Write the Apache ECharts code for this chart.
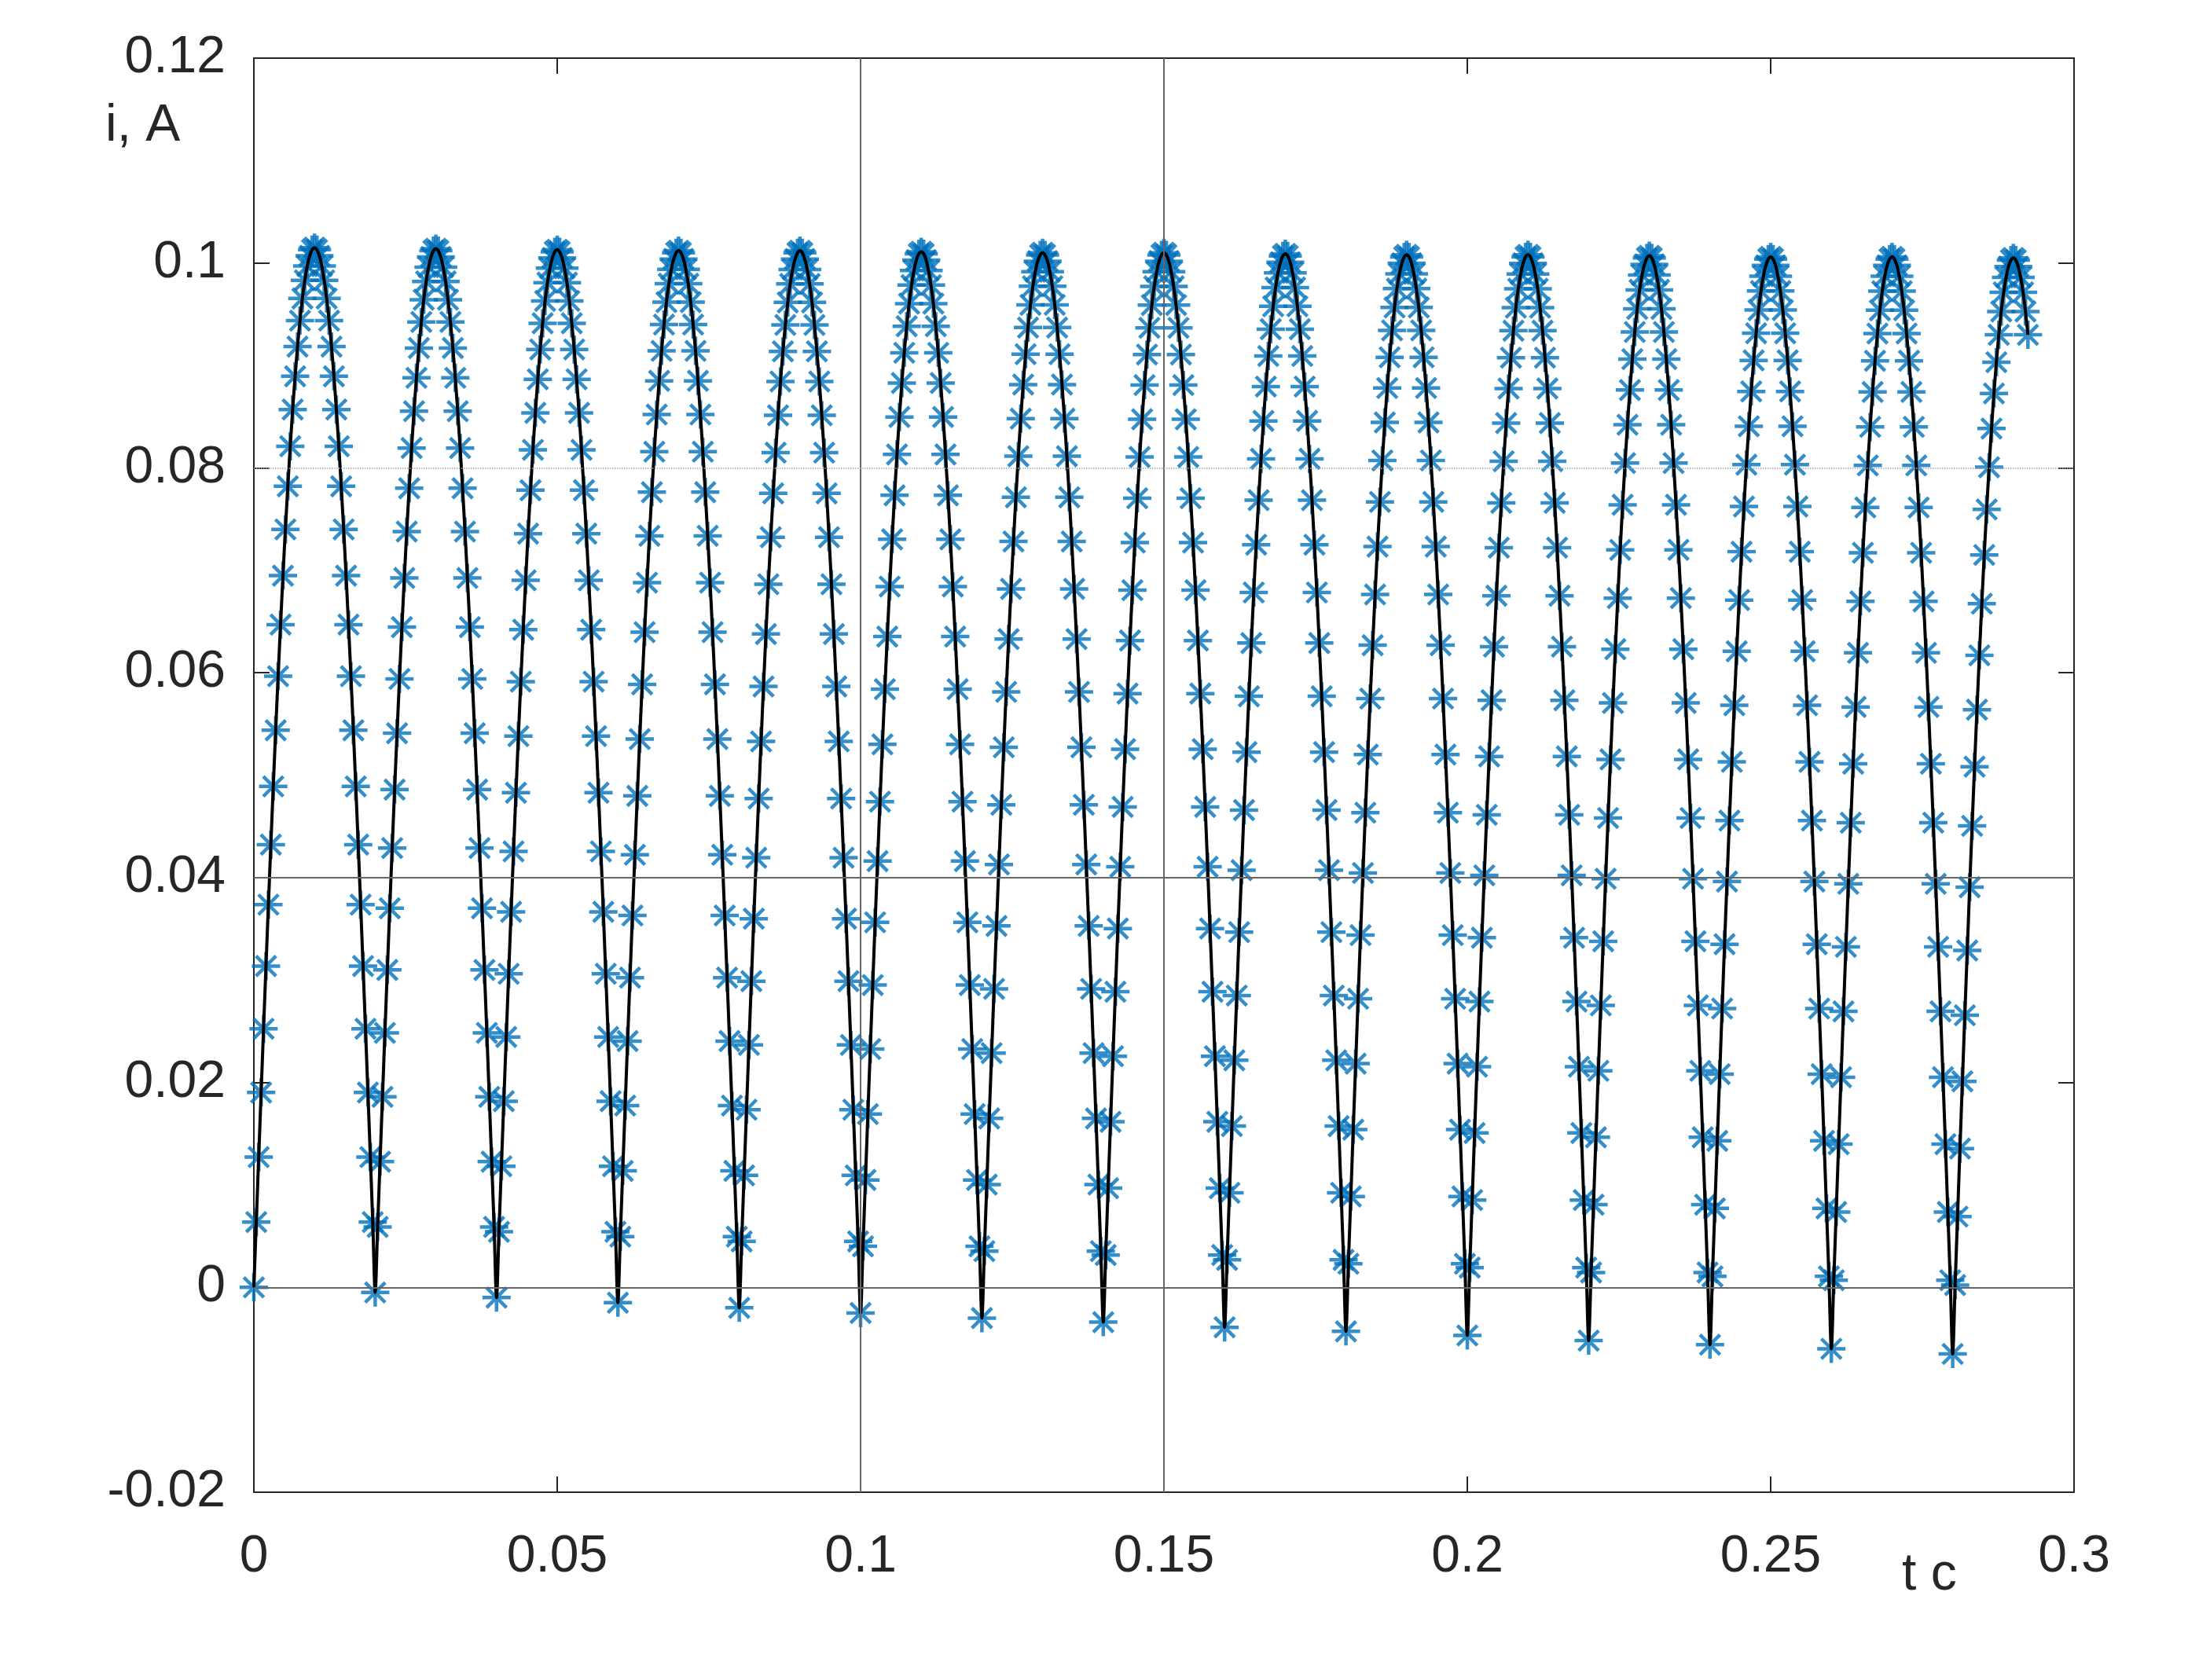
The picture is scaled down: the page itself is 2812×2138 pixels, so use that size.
<!DOCTYPE html>
<html>
<head>
<meta charset="utf-8">
<script src="https://cdn.jsdelivr.net/npm/echarts@6/dist/echarts.min.js"></script>
<style>html,body{margin:0;background:#fff}#chart{width:2812px;height:2138px}</style>
</head>
<body>
<div id="chart"></div>
<script>
// Sampling step (s)
const STEP = 0.0004;
const T_END = 0.2924;
// Shape of one arch (0.02 s), 50 samples, read relative to the arch height
const ARCH_SHAPE = [0, 0.0628, 0.1253, 0.1874, 0.2487, 0.3090, 0.3681, 0.4258, 0.4818, 0.5358,
    0.5878, 0.6374, 0.6845, 0.7290, 0.7705, 0.8090, 0.8443, 0.8763, 0.9048, 0.9298,
    0.9511, 0.9686, 0.9823, 0.9921, 0.9980, 1.0000, 0.9980, 0.9921, 0.9823, 0.9686,
    0.9511, 0.9298, 0.9048, 0.8763, 0.8443, 0.8090, 0.7705, 0.7290, 0.6845, 0.6374,
    0.5878, 0.5358, 0.4818, 0.4258, 0.3681, 0.3090, 0.2487, 0.1874, 0.1253, 0.0628];
// Peak value of each arch (A)
const PEAKS = [0.1015, 0.1014, 0.1013, 0.1012, 0.1012, 0.1011, 0.1010, 0.1010, 0.1009, 0.1008,
    0.1008, 0.1007, 0.1006, 0.1006, 0.1005];
// Minimum at the start of each arch (A)
const TROUGHS = [0.0000, -0.0005, -0.0010, -0.0015, -0.0020, -0.0025, -0.0030, -0.0034,
    -0.0039, -0.0043, -0.0047, -0.0052, -0.0056, -0.0060, -0.0065];

const points = [];
PEAKS.forEach((pk, c) => {
    const lo = TROUGHS[c];
    ARCH_SHAPE.forEach((s, k) => {
        const t = +(c * 0.02 + k * STEP).toFixed(4);
        if (t <= T_END) points.push([t, lo + (pk - lo) * s]);
    });
});

const ASTER = 'path://M0,-10L0,10M-10,0L10,0M-7.07,-7.07L7.07,7.07M-7.07,7.07L7.07,-7.07';
const FONT = 'Arial, Liberation Sans, sans-serif';

function axis(extra) {
    return Object.assign({
        type: 'value',
        axisLine: { show: true, onZero: false, lineStyle: { color: '#262626', width: 2 } },
        axisTick: { show: true, inside: true, length: 20, lineStyle: { color: '#262626', width: 2 } },
        splitLine: { show: false },
        axisLabel: { color: '#262626', fontSize: 66, fontFamily: FONT }
    }, extra);
}

const chart = echarts.init(document.getElementById('chart'));
chart.setOption({
    backgroundColor: '#fff',
    animation: false,
    grid: { left: 323, right: 173, top: 74, bottom: 239 },
    xAxis: [
        axis({ min: 0, max: 0.3, interval: 0.05, position: 'bottom',
            axisLabel: { color: '#262626', fontSize: 66, fontFamily: FONT, margin: 50, formatter: v => String(+v.toFixed(2)) } }),
        axis({ min: 0, max: 0.3, interval: 0.05, position: 'top', axisLabel: { show: false } })
    ],
    yAxis: [
        axis({ min: -0.02, max: 0.12, interval: 0.02, position: 'left',
            axisLabel: { color: '#262626', fontSize: 66, fontFamily: FONT, margin: 36, formatter: v => String(+v.toFixed(2)) } }),
        axis({ min: -0.02, max: 0.12, interval: 0.02, position: 'right', axisLabel: { show: false } })
    ],
    graphic: [
        { type: 'text', left: 134, top: 128, style: { text: 'i, A', font: '66px ' + FONT, fill: '#262626' } },
        { type: 'text', left: 2420, top: 1972, style: { text: 't c', font: '66px ' + FONT, fill: '#262626' } }
    ],
    series: [
        {
            type: 'scatter', data: points, symbol: ASTER, symbolSize: 36,
            itemStyle: { color: 'none', borderColor: '#0072BD', borderWidth: 4.5 },
            markLine: {
                silent: true, symbol: 'none', label: { show: false },
                data: [
                    { xAxis: 0.1, lineStyle: { color: '#666', width: 2, type: 'solid' } },
                    { xAxis: 0.15, lineStyle: { color: '#666', width: 2, type: 'solid' } },
                    { yAxis: 0.08, lineStyle: { color: '#aaa', width: 1.5, type: 'dotted' } },
                    { yAxis: 0.04, lineStyle: { color: '#666', width: 2, type: 'solid' } },
                    { yAxis: 0, lineStyle: { color: '#666', width: 2, type: 'solid' } }
                ]
            },
            z: 2
        },
        {
            type: 'line', data: points, showSymbol: false, smooth: 0.3,
            lineStyle: { color: '#000', width: 4 }, z: 3
        }
    ]
});
</script>
</body>
</html>
